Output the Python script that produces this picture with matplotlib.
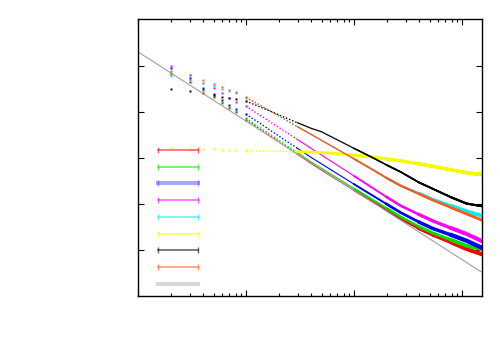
import matplotlib
matplotlib.use("Agg")
import matplotlib.pyplot as plt
from matplotlib.lines import Line2D
from matplotlib.ticker import NullLocator

# sample positions (integer sizes) shared by every series
x = [2, 3, 4, 5, 6, 7, 8, 10, 13, 16, 20, 25, 30, 40, 50, 70, 100,
     150, 200, 270, 400, 540, 800, 1100, 1500]

red = [0.0660, 0.0442, 0.0296, 0.0209, 0.01545, 0.0120, 0.00985, 0.00677,
       0.00449, 0.00324, 0.00228, 0.001608, 0.001203, 0.000767, 0.000548,
       0.000336, 0.000200, 0.0001127, 7.48e-5, 4.89e-5, 2.96e-5, 2.14e-5,
       1.47e-5, 1.07e-5, 8.35e-6]
green = [0.0694, 0.0489, 0.0311, 0.0219, 0.0162, 0.0126, 0.01035, 0.00729,
         0.00484, 0.00349, 0.00246, 0.001733, 0.001303, 0.000826, 0.000597,
         0.000367, 0.000219, 0.0001233, 8.18e-5, 5.32e-5, 3.27e-5, 2.36e-5,
         1.67e-5, 1.26e-5, 1.07e-5]
blue = [0.0891, 0.0548, 0.0332, 0.0242, 0.01795, 0.01398, 0.01144, 0.00891,
        0.00597, 0.00431, 0.00304, 0.00214, 0.001624, 0.001035, 0.000748,
        0.000458, 0.000272, 0.0001522, 0.0001010, 6.60e-5, 4.10e-5, 2.96e-5,
        2.14e-5, 1.62e-5, 1.16e-5]
magenta = [0.0985, 0.0628, 0.0420, 0.0327, 0.0255, 0.0201, 0.0162, 0.0133,
           0.00891, 0.00653, 0.00465, 0.00332, 0.00252, 0.001624, 0.001161,
           0.000700, 0.000410, 0.0002215, 0.0001433, 9.27e-5, 5.97e-5, 4.31e-5,
           3.01e-5, 2.27e-5, 1.62e-5]
cyan = [0.0597, 0.0489, 0.0420, 0.0362, 0.0319, 0.0282, 0.0255, 0.0203,
        0.0147, 0.01116, 0.00826, 0.00612, 0.00476, 0.00327, 0.00242,
        0.00155, 0.000960, 0.000554, 0.000371, 0.000252, 0.0001708, 0.000126,
        9.13e-5, 7.04e-5, 5.68e-5]
yellow = [0.00162, 0.001585, 0.00155, 0.00155, 0.001507, 0.001507, 0.00147,
          0.001448, 0.001433, 0.001419, 0.001405, 0.001391, 0.001377, 0.001350,
          0.001316, 0.001252, 0.001161, 0.001045, 0.000960, 0.000869, 0.000748,
          0.000660, 0.000554, 0.000481, 0.000442]
black = [0.0311, 0.0282, 0.0255, 0.0231, 0.0214, 0.0203, 0.01935, 0.01708,
         0.01329, 0.01088, 0.00869, 0.00694, 0.00582, 0.00442, 0.00371,
         0.002486, 0.001624, 0.001010, 0.000711, 0.000501, 0.000296, 0.000214,
         0.000140, 0.0001035, 9.13e-5]
orange = [0.0767, 0.0628, 0.0489, 0.0394, 0.0339, 0.0296, 0.0264, 0.0209,
          0.0147, 0.01116, 0.00826, 0.00612, 0.00476, 0.00327, 0.00242,
          0.00155, 0.000960, 0.000554, 0.000371, 0.000252, 0.0001665, 0.0001215,
          8.35e-5, 6.18e-5, 4.58e-5]

# power-law guide line (slope -1.5)
guide_x = [1, 1500]
guide_y = [0.2, 3.44e-6]

# (values, colour, line width, tail width)
series = [
    (red, "#ff0000", 0.8, 2.8),
    (green, "#00e000", 0.8, 2.6),
    (blue, "#0000ff", 0.8, 3.0),
    (magenta, "#ff00ff", 0.8, 2.8),
    (cyan, "#00f0f0", 0.8, 2.6),
    (yellow, "#f8f800", 2.0, 2.4),
    (black, "#000000", 0.9, 1.6),
    (orange, "#ff5a1e", 1.0, 1.8),
]

fig = plt.figure(figsize=(5, 3.5), dpi=100)
ax = fig.add_axes([0.276, 0.154, 0.688, 0.792])

for ys, c, lw, tail_lw in series:
    # single points at small sizes, dotted where they crowd, then solid
    ax.plot(x[:8], ys[:8], ls="none", marker="s", ms=1.4, mew=0, color=c)
    ax.plot(x[7:13], ys[7:13], lw=1.0, ls=(0, (1, 1.4)), color=c)
    ax.plot(x[12:], ys[12:], lw=lw, color=c)
    # the noisy tail gets wider step by step
    for k, start in enumerate([16, 18, 20, 22]):
        w = lw + (tail_lw - lw) * (k + 1) / 4
        ax.plot(x[start:], ys[start:], lw=w, color=c)

ax.plot(guide_x, guide_y, lw=0.8, color="#a0a0a0")

ax.set_xscale("log")
ax.set_yscale("log")
ax.set_xlim(1, 1530)
ax.set_ylim(10 ** -5.99, 10 ** 0.015)
ax.set_yticks([1e-5, 1e-4, 1e-3, 1e-2, 1e-1])
ax.yaxis.set_minor_locator(NullLocator())
ax.tick_params(which="both", direction="in", top=True, right=True,
               labelbottom=False, labelleft=False, width=0.8)
ax.tick_params(which="major", length=4)
ax.tick_params(which="minor", length=2)
for s in ax.spines.values():
    s.set_linewidth(1.0)

# key with empty titles, errorbar-like samples
handles = []
for ys, c, lw, tail_lw in series:
    handles.append(Line2D([], [], color=c, lw=1.2, alpha=0.6, marker="|",
                          ms=5, mew=1.0))
handles[2].set_linewidth(3)
handles[2].set_alpha(0.35)
handles.append(Line2D([], [], color="#d8d8d8", lw=3))
ax.legend(handles, [""] * len(handles), loc="upper left",
          bbox_to_anchor=(0.047, 0.55), frameon=False, fontsize=10,
          labelspacing=0.2, handlelength=3.48, borderpad=0, borderaxespad=0,
          numpoints=2, handletextpad=0)

fig.savefig("out.png", dpi=100)
